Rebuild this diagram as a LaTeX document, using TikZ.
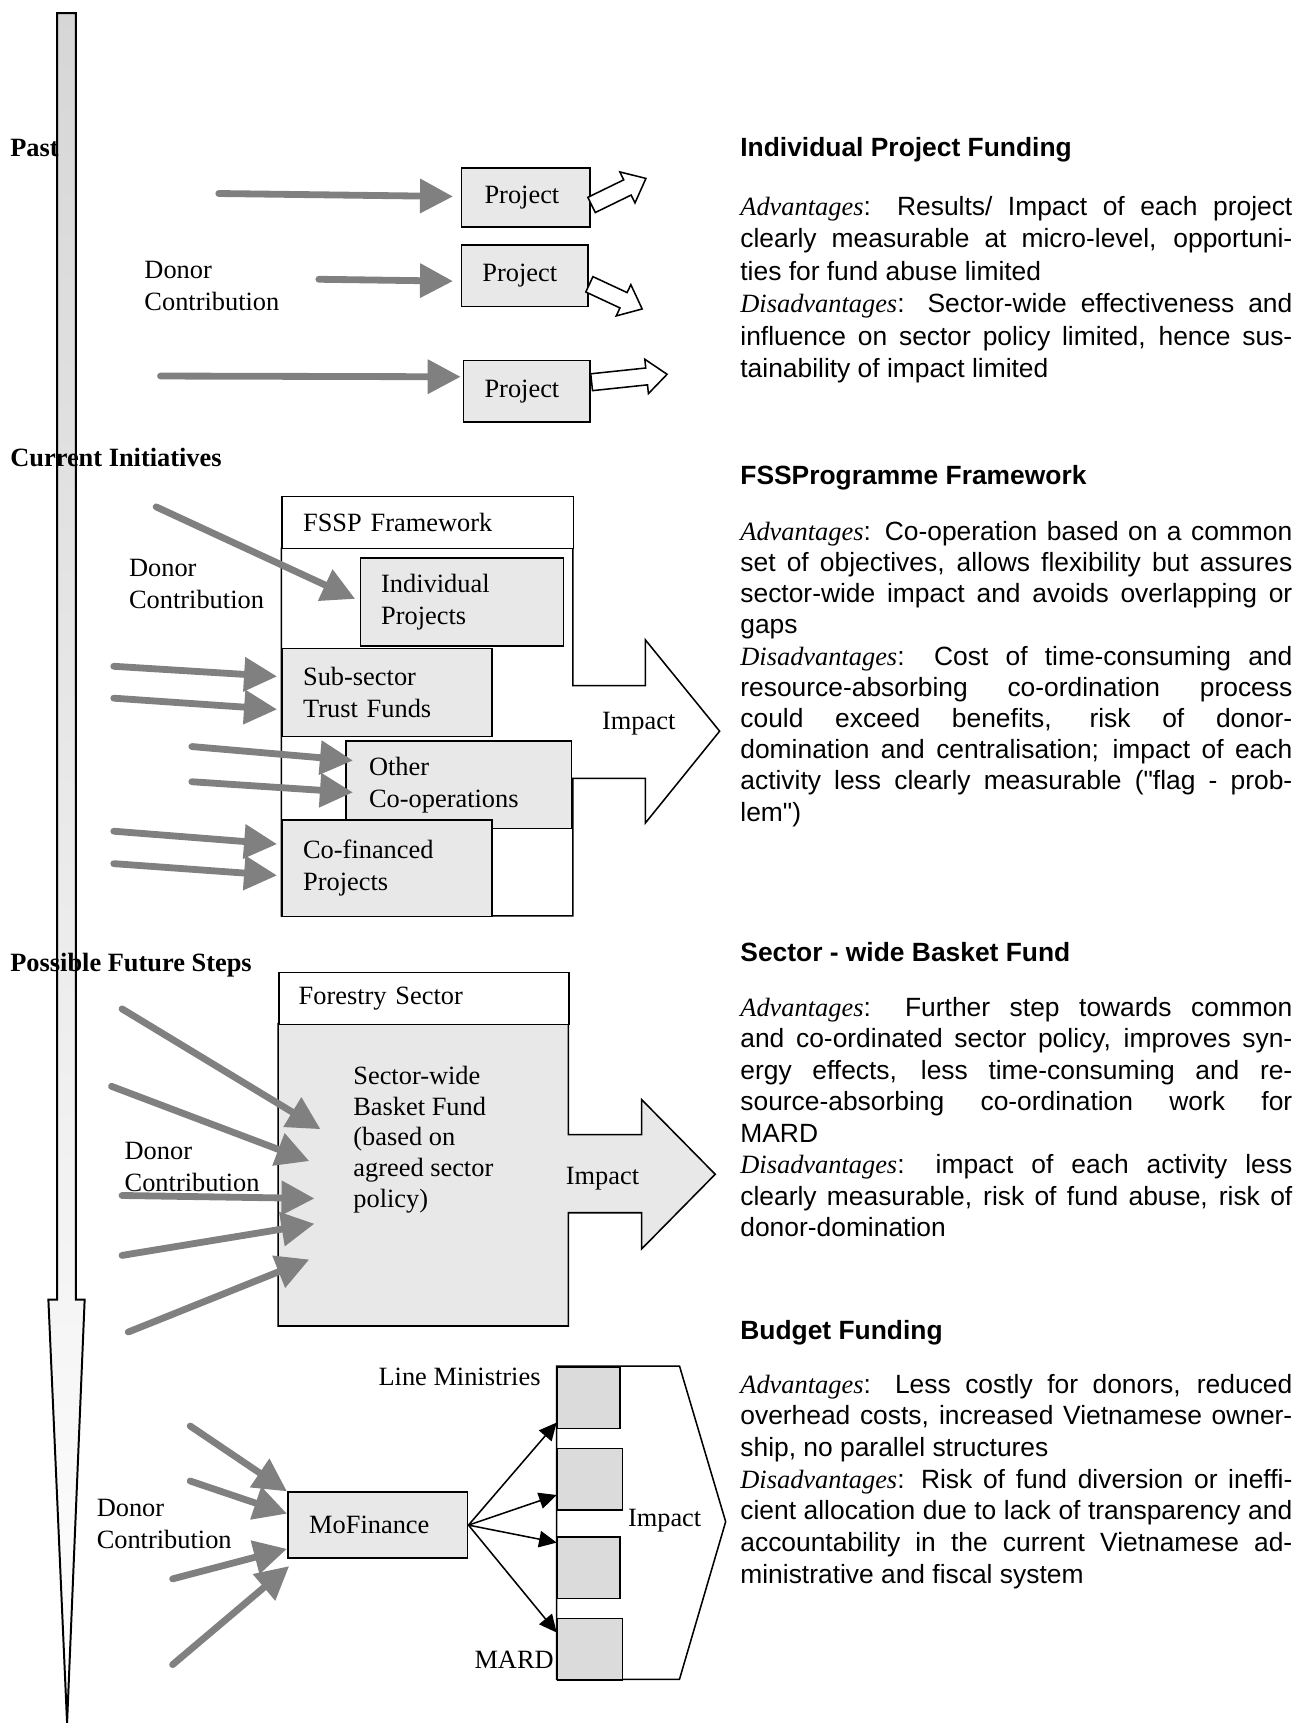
\documentclass[tikz,border=0pt]{standalone}
\usepackage{fontspec}
\setmainfont{Liberation Serif}
\setsansfont{Liberation Sans}
\usetikzlibrary{arrows.meta,shapes.arrows}
\definecolor{boxgray}{HTML}{E8E8E8}
\definecolor{mingray}{HTML}{DBDBDB}
\definecolor{arrgray}{HTML}{808080}
\hyphenpenalty=10000
\exhyphenpenalty=10000
\begin{document}
\begin{tikzpicture}[x=0.5pt,y=-0.5pt,
    every node/.style={inner sep=0pt},
    lab/.style={font=\fontsize{12pt}{14.5pt}\selectfont, align=left},
    sect/.style={font=\fontsize{12pt}{14.5pt}\selectfont\bfseries, anchor=base west},
    box/.style={draw=black, fill=boxgray, line width=0.7pt, anchor=north west, align=left, inner ysep=0pt, font=\fontsize{12pt}{14.5pt}\selectfont},
    mbox/.style={draw=black, fill=mingray, line width=0.7pt, anchor=north west, minimum width=28.5pt, minimum height=28pt},
    hollow/.style={shape=single arrow, draw=black, fill=white, line width=0.7pt, inner xsep=0pt, inner ysep=3.5pt, single arrow head extend=4pt, single arrow tip angle=80, anchor=tail},
    donor/.style={draw=arrgray, line width=3.1pt, line cap=round, -{Triangle[length=15pt,width=15pt]}},
    feed/.style={draw=black, line width=0.7pt, -{Triangle[length=8pt,width=7.5pt]}},
    ttl/.style={font=\sffamily\bfseries\fontsize{12pt}{14.5pt}\selectfont, anchor=base west},
    txt/.style={anchor=base west, text width=251pt, align=justify}]
    \path[use as bounding box, fill=white] (0,0) rectangle (1181,1568);

    \draw[line width=0.9pt, top color=black!16, bottom color=white] (52,12) -- (69,12) -- (69,1182) -- (77,1182) -- (61,1567) -- (44,1182) -- (52,1182) -- cycle;
    \node[sect] (past) at (9,142) {Past};
    \node[sect] (now) at (9,424) {Current Initiatives};
    \node[sect] (future) at (9,884) {Possible Future Steps};

    \node[box, inner xsep=10.5pt, text width=37.5pt, minimum height=27pt] (p1) at (419,152) {Project};
    \node[box, inner xsep=9.5pt, text width=38.5pt, minimum height=28pt] (p2) at (419,222) {Project};
    \node[box, inner xsep=9.5pt, text width=38.5pt, minimum height=28pt] (p3) at (421,327) {Project};
    \node[hollow, rotate=26, minimum height=27.5pt] (h1) at ([yshift=-3.5pt]p1.east) {};
    \node[hollow, rotate=-25, minimum height=26.5pt] (h2) at ([yshift=-3.8pt]p2.east) {};
    \node[hollow, rotate=6, minimum height=34.5pt] (h3) at ([yshift=4pt]p3.east) {};
    \node[lab, anchor=west] (d1) at (131,260) {Donor\\Contribution};
    \coordinate (s1a) at (199,176);
    \coordinate (s1b) at (290,254);
    \coordinate (s1c) at (146,342);
    \draw [donor](s1a) -- ([xshift=-3.5pt,yshift=0.5pt]p1.west);
    \draw [donor](s1b) -- ([xshift=-3.5pt,yshift=-2.5pt]p2.west);
    \draw [donor](s1c) -- ([xshift=-1pt,yshift=6.5pt]p3.west);

    \draw[line width=0.7pt] (521,498) -- (521,623.5) -- (587,623.5) -- (587,582) -- (654.5,665) -- (587,748.5) -- (587,708) -- (521,708) -- (521,833) -- (256,833) -- (256,498);
    \node[box, fill=white, inner xsep=9.5pt, text width=113.5pt, minimum height=23.5pt] (fssp) at (256,451) {FSSP Framework};
    \node[box, inner xsep=9.5pt, text width=73.5pt, minimum height=40pt] (ind) at (327,507) {Individual\\Projects};
    \node[box, inner xsep=9.5pt, text width=76.5pt, minimum height=40pt] (sub) at (256,589) {Sub-sector\\Trust Funds};
    \node[box, inner xsep=10.5pt, text width=81.5pt, minimum height=40pt] (oth) at (314,673) {Other\\Co-operations};
    \node[box, inner xsep=9.5pt, text width=76.5pt, minimum height=44pt] (cof) at (256,745) {Co-financed\\Projects};
    \node[lab] (imp2) at (581,658) {Impact};
    \node[lab, anchor=west] (d2) at (117,531) {Donor\\Contribution};
    \coordinate (s2a) at (142,461);
    \coordinate (s2b) at (103.5,606);
    \coordinate (s2c) at (103.5,635);
    \coordinate (s2d) at (174.5,679);
    \coordinate (s2e) at (174.5,711);
    \coordinate (s2f) at (103.5,756);
    \coordinate (s2g) at (103.5,785.5);
    \draw [donor](s2a) -- ([xshift=-2pt,yshift=1.5pt]ind.west);
    \draw [donor](s2b) -- ([xshift=-2pt,yshift=7.25pt]sub.west);
    \draw [donor](s2c) -- ([xshift=-2pt,yshift=-7.75pt]sub.west);
    \draw [donor](s2d) -- ([xshift=3.5pt,yshift=11pt]oth.west);
    \draw [donor](s2e) -- ([xshift=3.5pt,yshift=-3.5pt]oth.west);
    \draw [donor](s2f) -- ([xshift=-2pt,yshift=11pt]cof.west);
    \draw [donor](s2g) -- ([xshift=-2pt,yshift=-3.25pt]cof.west);

    \filldraw[fill=boxgray, line width=0.7pt] (253,931) -- (517,931) -- (517,1032) -- (583.5,1032) -- (583.5,1000) -- (650.5,1068) -- (583.5,1136) -- (583.5,1103) -- (517,1103) -- (517,1206) -- (253,1206) -- cycle;
    \node[box, fill=white, inner xsep=9pt, text width=114pt, minimum height=23.5pt] (forest) at (253,884) {Forestry Sector};
    \node[lab, anchor=west, font=\fontsize{12pt}{14.05pt}\selectfont] (basket) at (321,1036.5) {Sector-wide\\Basket Fund\\(based on\\agreed sector\\policy)};
    \node[lab] (imp3) at (548,1072) {Impact};
    \node[lab, anchor=west] (d3) at (113,1061) {Donor\\Contribution};
    \coordinate (s3a) at (111,917.6);
    \coordinate (s3b) at (101.4,988);
    \coordinate (s3c) at (111,1087.3);
    \coordinate (s3d) at (111,1141.8);
    \coordinate (s3e) at (116.7,1211.5);
    \draw [donor](s3a) -- ([xshift=-14.75pt,yshift=4.75pt]basket.west);
    \draw [donor](s3b) -- ([xshift=-19.85pt,yshift=-9.75pt]basket.west);
    \draw [donor](s3c) -- ([xshift=-17.5pt,yshift=-26.75pt]basket.west);
    \draw [donor](s3d) -- ([xshift=-17.5pt,yshift=-38.25pt]basket.west);
    \draw [donor](s3e) -- ([xshift=-19.85pt,yshift=-54.5pt]basket.west);

    \draw[line width=0.7pt] (506.3,1242.4) -- (618,1242.4) -- (660,1384) -- (618,1527.3) -- (506.3,1527.3) -- cycle;
    \node[mbox] (lm1) at (506.3,1242.4) {};
    \node[mbox, minimum width=29.5pt] (lm2) at (506.3,1316.7) {};
    \node[mbox] (lm3) at (506.3,1397) {};
    \node[mbox, minimum width=29.5pt] (lm4) at (506.3,1471.2) {};
    \node[lab, anchor=base east] (lines) at (492,1260) {Line Ministries};
    \node[lab, anchor=base east] (mard) at (504,1517.6) {MARD};
    \node[lab] (imp4) at (604.5,1383) {Impact};
    \node[box, inner xsep=9.75pt, text width=62.35pt, minimum height=30pt] (mof) at (261,1356.4) {MoFinance};
    \node[lab, anchor=west] (d4) at (87.6,1386) {Donor\\Contribution};
    \draw [feed](mof.east) -- ([yshift=3pt]lm1.south west);
    \draw [feed](mof.east) -- ([yshift=-7.15pt]lm2.west);
    \draw [feed](mof.east) -- ([yshift=-3pt]lm3.north west);
    \draw [feed](mof.east) -- ([yshift=-6.8pt]lm4.north west);
    \coordinate (s4a) at (173,1297);
    \coordinate (s4b) at (173,1347);
    \coordinate (s4c) at (157,1436);
    \coordinate (s4d) at (157,1514);
    \draw [donor](s4a) -- (mof.north west);
    \draw [donor](s4b) -- ([yshift=5.2pt]mof.west);
    \draw [donor](s4c) -- ([yshift=-10.8pt]mof.west);
    \draw [donor](s4d) -- ([xshift=1pt,yshift=-3.3pt]mof.south west);

    \node[ttl] (t1) at (673,142.5) {Individual Project Funding};
    \node[txt, font=\sffamily\fontsize{12pt}{14.75pt}\selectfont] (b1) at (673,196) {{\rmfamily\itshape Advantages}: Results/ Impact of each project\linebreak clearly measurable at micro-level, opportuni-\linebreak ties for fund abuse limited\\
    {\rmfamily\itshape Disadvantages}: Sector-wide effectiveness and\linebreak influence on sector policy limited, hence sus-\linebreak tainability of impact limited};
    \node[ttl] (t2) at (673,441) {FSSProgramme Framework};
    \node[txt, font=\sffamily\fontsize{12pt}{14.2pt}\selectfont] (b2) at (673,491.3) {{\rmfamily\itshape Advantages}: Co-operation based on a common\linebreak set of objectives, allows flexibility but assures\linebreak sector-wide impact and avoids overlapping or\linebreak gaps\\
    {\rmfamily\itshape Disadvantages}: Cost of time-consuming and\linebreak resource-absorbing co-ordination process\linebreak could exceed benefits, risk of donor-\linebreak domination and centralisation; impact of each\linebreak activity less clearly measurable (\textquotedbl flag~- prob-\linebreak lem\textquotedbl)};
    \node[ttl] (t3) at (673,874.5) {Sector - wide Basket Fund};
    \node[txt, font=\sffamily\fontsize{12pt}{14.3pt}\selectfont] (b3) at (673,924.5) {{\rmfamily\itshape Advantages}: Further step towards common\linebreak and co-ordinated sector policy, improves syn-\linebreak ergy effects, less time-consuming and re-\linebreak source-absorbing co-ordination work for\linebreak MARD\\
    {\rmfamily\itshape Disadvantages}: impact of each activity less\linebreak clearly measurable, risk of fund abuse, risk of\linebreak donor-domination};
    \node[ttl] (t4) at (673,1218) {Budget Funding};
    \node[txt, font=\sffamily\fontsize{12pt}{14.4pt}\selectfont] (b4) at (673,1267) {{\rmfamily\itshape Advantages}: Less costly for donors, reduced\linebreak overhead costs, increased Vietnamese owner-\linebreak ship, no parallel structures\\
    {\rmfamily\itshape Disadvantages}: Risk of fund diversion or ineffi-\linebreak cient allocation due to lack of transparency and\linebreak accountability in the current Vietnamese ad-\linebreak ministrative and fiscal system};
  \end{tikzpicture}
\end{document}
